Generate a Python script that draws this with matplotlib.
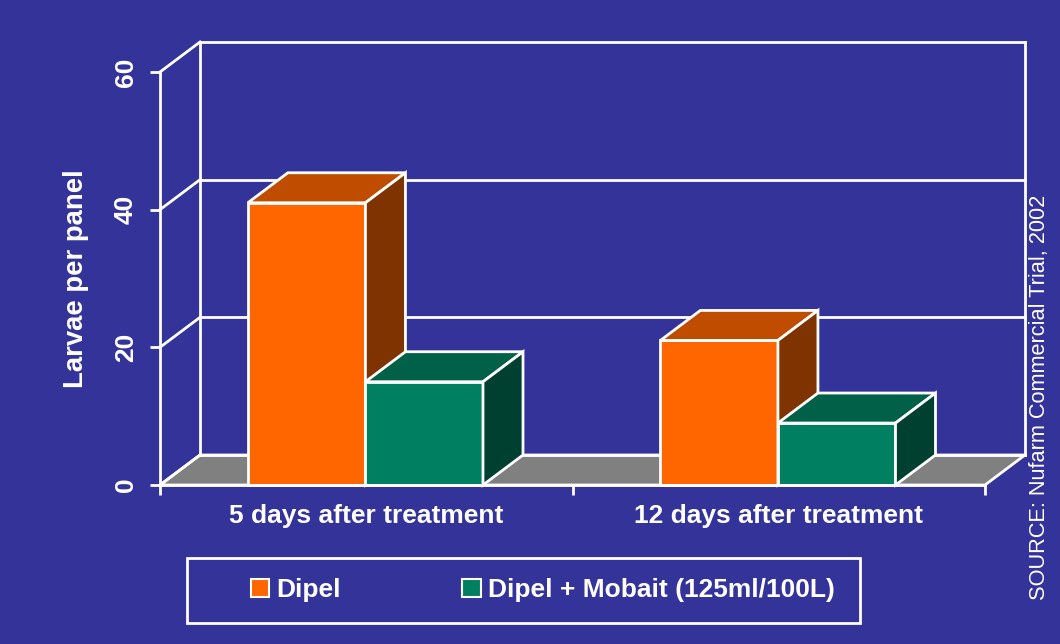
import matplotlib
matplotlib.use("Agg")
import matplotlib.pyplot as plt
from matplotlib.patches import Polygon, Patch, Rectangle

plt.rcParams['font.family'] = ['Liberation Sans', 'DejaVu Sans']

# data
categories = ["5 days after treatment", "12 days after treatment"]
series_names = ["Dipel", "Dipel + Mobait (125ml/100L)"]
dipel = [41, 21]
dipel_mobait = [15, 9]
y_ticks = [0, 20, 40, 60]

bg = "#333399"
front_cols = ["#FF6600", "#008060"]
top_cols = ["#C04C00", "#006048"]
side_cols = ["#7F3300", "#004030"]

# pseudo 3d depth (in data units)
DX = 0.097
DY = 4.36
BAR_W = 0.285
GAP = 0.213

fig = plt.figure(figsize=(10.6, 6.44), dpi=100, facecolor=bg)
ax = fig.add_axes([160/1060, 159/644, 825/1060, 413/644])
ax.set_facecolor("none")
ax.set_xlim(0, len(categories))
ax.set_ylim(0, 60)

lw = 2
# floor
n = len(categories)
floor = Polygon([(0, 0), (n, 0), (n + DX, DY), (DX, DY)], closed=True,
                facecolor="#808080", edgecolor="white", lw=lw, clip_on=False, zorder=1)
ax.add_patch(floor)

# back wall and side lines
for v in y_ticks:
    ax.plot([DX, n + DX], [v + DY, v + DY], color="white", lw=lw, clip_on=False, zorder=1)
    ax.plot([0, DX], [v, v + DY], color="white", lw=lw, clip_on=False, zorder=1)
ax.plot([DX, DX], [DY, 60 + DY], color="white", lw=lw, clip_on=False, zorder=1)
ax.plot([n + DX, n + DX], [DY, 60 + DY], color="white", lw=lw, clip_on=False, zorder=1)

# bars
series = [dipel, dipel_mobait]
z = 2
for i in range(n):
    for s, vals in enumerate(series):
        x0 = i + GAP + s * BAR_W
        h = vals[i]
        ax.bar(x0, h, width=BAR_W, align="edge", color=front_cols[s],
               edgecolor="white", lw=lw, zorder=z, clip_on=False)
        top = [(x0, h), (x0 + BAR_W, h), (x0 + BAR_W + DX, h + DY), (x0 + DX, h + DY)]
        side = [(x0 + BAR_W, 0), (x0 + BAR_W + DX, DY), (x0 + BAR_W + DX, h + DY), (x0 + BAR_W, h)]
        ax.add_patch(Polygon(top, closed=True, facecolor=top_cols[s], edgecolor="white",
                             lw=lw, zorder=z, clip_on=False))
        ax.add_patch(Polygon(side, closed=True, facecolor=side_cols[s], edgecolor="white",
                             lw=lw, zorder=z, clip_on=False))
        z += 1

for sp in ["top", "right"]:
    ax.spines[sp].set_visible(False)
for sp in ["left", "bottom"]:
    ax.spines[sp].set_color("white")
    ax.spines[sp].set_linewidth(lw)
    ax.spines[sp].set_zorder(20)

ax.set_yticks(y_ticks)
ax.set_yticklabels([str(t) for t in y_ticks], rotation=90, va="center",
                   fontsize=19, fontweight="bold", color="white")
ax.set_xticks(range(n + 1))
ax.set_xticklabels([])
ax.set_xticks([i + 0.5 for i in range(n)], minor=True)
ax.set_xticklabels(categories, minor=True, fontsize=19, fontweight="bold", color="white")
ax.tick_params(axis="both", which="major", color="white", width=lw, length=7)
ax.tick_params(axis="y", pad=9)
ax.tick_params(axis="x", which="minor", length=0, pad=14)

ax.set_ylabel("Larvae per panel", fontsize=19.8, fontweight="bold", color="white", labelpad=18)

fig.text(1040/1060, 1 - 397/644, "SOURCE: Nufarm Commercial Trial, 2002", rotation=90,
         ha="center", va="center", fontsize=15.7, color="white")

# legend box
fig.patches.append(Rectangle((187/1060, 21/644), 673/1060, 65/644, transform=fig.transFigure,
                             facecolor="none", edgecolor="white", lw=2))
handles = [Patch(facecolor=front_cols[s], edgecolor="white", lw=1.5) for s in range(2)]
fig.legend(handles, series_names, loc="center left", ncol=2, frameon=False,
           bbox_to_anchor=(227/1060, 1 - 590/644), prop={"size": 19, "weight": "bold"},
           labelcolor="white", handlelength=0.7, handleheight=0.7, handletextpad=0.27,
           columnspacing=4.6)

fig.savefig("out.png", dpi=100, facecolor=bg)
